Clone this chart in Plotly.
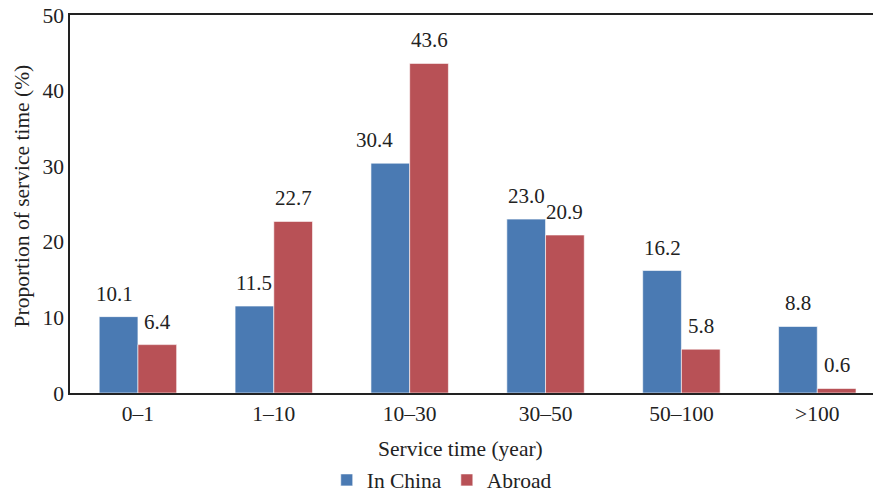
import plotly.graph_objects as go

categories = ["0–1", "1–10", "10–30", "30–50", "50–100", ">100"]
in_china = [10.1, 11.5, 30.4, 23.0, 16.2, 8.8]
abroad = [6.4, 22.7, 43.6, 20.9, 5.8, 0.6]
y_ticks = [0, 10, 20, 30, 40, 50]

FONT = "Liberation Serif"
BLUE = "#4a7ab3"
RED = "#b85156"

W, H = 873, 492
ML, MR, MT, MB = 70, 0, 15, 99
X_RANGE = [-0.5, 5.41]
BARGAP = 0.43
px_per_cat = (W - ML - MR) / (X_RANGE[1] - X_RANGE[0])
bar_w = px_per_cat * (1 - BARGAP) / 2
label_nudge = {("In China", "10–30"): -16, ("In China", "0–1"): -4}

fig = go.Figure()
for name, vals, col, side in [("In China", in_china, BLUE, -1), ("Abroad", abroad, RED, 1)]:
    fig.add_trace(go.Bar(
        x=categories, y=vals, name=name,
        marker=dict(color=col, line=dict(color="white", width=0.6)),
    ))
    for c, v in zip(categories, vals):
        fig.add_annotation(
            x=c, y=v, xref="x", yref="y", text=f"{v:.1f}", showarrow=False,
            xanchor="center", yanchor="bottom",
            xshift=side * bar_w / 2 + label_nudge.get((name, c), 0), yshift=9,
            font=dict(family=FONT, size=21, color="#222"),
        )

# axis titles
fig.add_annotation(text="Service time (year)", xref="paper", yref="paper", x=0.486, y=0,
                   yshift=-56, xanchor="center", yanchor="middle", showarrow=False,
                   font=dict(family=FONT, size=21.5, color="#222"))
fig.add_annotation(text="Proportion of service time (%)", xref="paper", yref="paper", x=0, y=0.52,
                   xshift=-48, textangle=-90, xanchor="center", yanchor="middle", showarrow=False,
                   font=dict(family=FONT, size=21.5, color="#222"))

fig.update_layout(
    width=W, height=H,
    margin=dict(l=ML, r=MR, t=MT, b=MB, autoexpand=False),
    paper_bgcolor="white", plot_bgcolor="white",
    barmode="group", bargap=BARGAP, bargroupgap=0,
    font=dict(family=FONT, size=21, color="#222"),
    showlegend=True,
    legend=dict(orientation="h", xref="container", x=0.506, xanchor="center",
                yref="paper", y=-0.23, yanchor="middle",
                font=dict(family=FONT, size=21.5, color="#222"), itemwidth=30,
                traceorder="normal"),
    xaxis=dict(range=X_RANGE, showline=True, linecolor="#222", linewidth=1.5,
               mirror=True, ticks="", tickfont=dict(family=FONT, size=21.5)),
    yaxis=dict(range=[0, 50], tickvals=y_ticks, showline=True, linecolor="#222", linewidth=1.5,
               showgrid=False, zeroline=False, ticks="", ticklabeloverflow="allow",
               tickfont=dict(family=FONT, size=21.5)),
)
fig.write_html("out.html", config={"displayModeBar": False},
               post_script="document.body.style.margin='0';")
